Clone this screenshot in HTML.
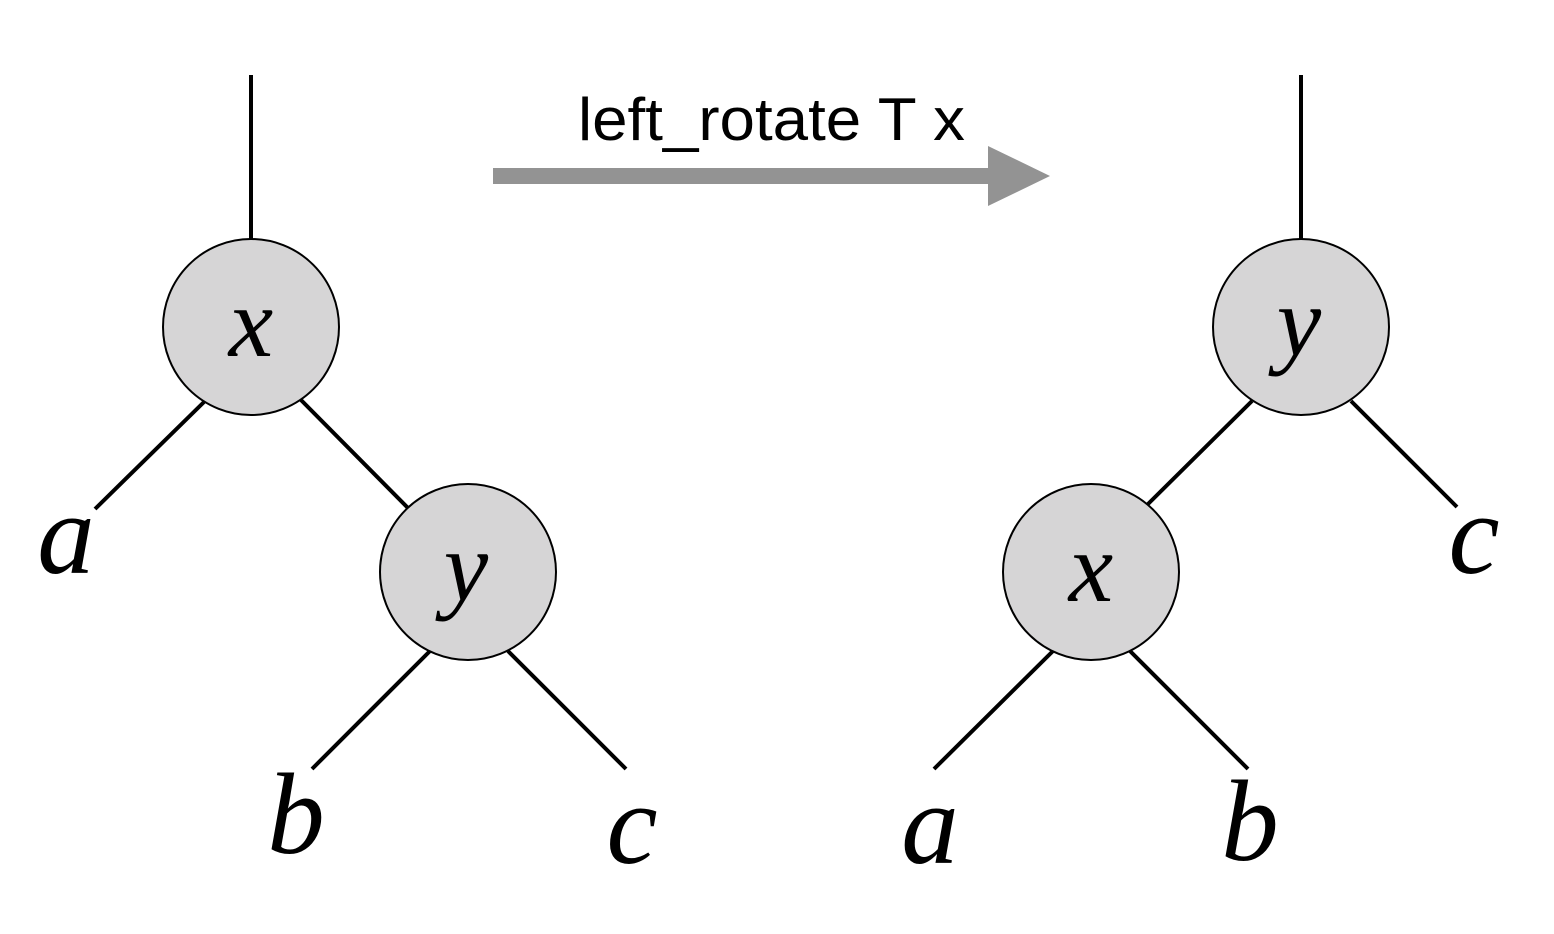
<!DOCTYPE html>
<html><head><meta charset="utf-8"><style>html,body{margin:0;padding:0;background:#fff}svg{display:block}</style></head>
<body>
<svg width="1554" height="934" viewBox="0 0 1554 934" xmlns="http://www.w3.org/2000/svg">
<g stroke="#000" stroke-width="4" fill="none">
<line x1="251" y1="75" x2="251" y2="240"/>
<line x1="204" y1="402" x2="95" y2="509"/>
<line x1="301" y1="400" x2="409" y2="509"/>
<line x1="430" y1="651" x2="312" y2="769"/>
<line x1="508" y1="651" x2="626" y2="769"/>
</g>
<circle cx="251" cy="327" r="88" fill="#d6d5d6" stroke="#000" stroke-width="2"/>
<circle cx="468" cy="572" r="88" fill="#d6d5d6" stroke="#000" stroke-width="2"/>
<g font-family="Liberation Serif, serif" font-style="italic" text-anchor="middle" fill="#000">
<text x="251" y="356" font-size="100">x</text>
<text x="466" y="600" font-size="100">y</text>
<text x="66" y="573" font-size="115">a</text>
<text x="296" y="853" font-size="115">b</text>
<text x="632" y="863" font-size="115">c</text>
</g>
<g>
<rect x="493" y="168" width="500" height="16" fill="#939393"/>
<polygon points="988,146 1050,176 988,206" fill="#939393"/>
</g>
<text x="578" y="140" font-family="Liberation Sans, sans-serif" font-size="60" textLength="387" lengthAdjust="spacingAndGlyphs" fill="#000">left_rotate T x</text>
<g stroke="#000" stroke-width="4" fill="none">
<line x1="1301" y1="75" x2="1301" y2="240"/>
<line x1="1252" y1="401" x2="1147" y2="505"/>
<line x1="1351" y1="401" x2="1457" y2="507"/>
<line x1="1053" y1="651" x2="934" y2="769"/>
<line x1="1130" y1="651" x2="1248" y2="769"/>
</g>
<circle cx="1301" cy="327" r="88" fill="#d6d5d6" stroke="#000" stroke-width="2"/>
<circle cx="1091" cy="572" r="88" fill="#d6d5d6" stroke="#000" stroke-width="2"/>
<g font-family="Liberation Serif, serif" font-style="italic" text-anchor="middle" fill="#000">
<text x="1299" y="355" font-size="100">y</text>
<text x="1091" y="601" font-size="100">x</text>
<text x="1474" y="573" font-size="115">c</text>
<text x="930" y="863" font-size="115">a</text>
<text x="1250" y="860" font-size="115">b</text>
</g>
</svg>
</body></html>
